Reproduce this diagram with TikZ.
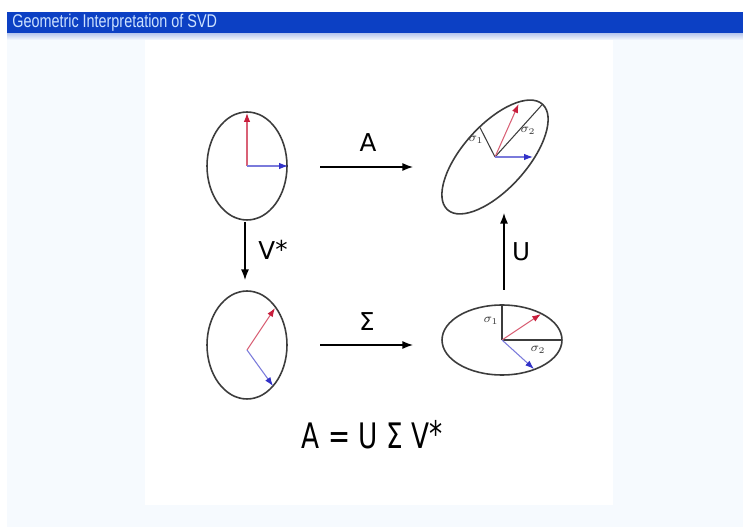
\documentclass[tikz,border=0pt]{standalone}
\usepackage{fontspec}
\setmainfont{DejaVu Sans}
\newfontfamily\titlefont[FakeStretch=0.78]{Liberation Sans}
\newfontfamily\eqfont[FakeStretch=0.75]{DejaVu Sans}
\usepackage{xcolor}
\usetikzlibrary{
  arrows.meta,
  calc,
  shapes.geometric
}
\definecolor{barblue}{RGB}{12, 64, 196}
\definecolor{bartext}{RGB}{205, 226, 255}
\definecolor{paleblue}{RGB}{246, 250, 254}
\definecolor{vecred}{RGB}{200, 30, 60}
\definecolor{vecblue}{RGB}{50, 50, 200}
\definecolor{rimgray}{RGB}{60, 60, 60}
\newcommand{\vstar}{V\raisebox{0.1ex}{*}}

\begin{document}
\begin{tikzpicture}[x=0.02cm, y=0.02cm,
    rim/.style={
        draw=rimgray, ellipse, line width=0.9pt, inner sep=0pt, outer sep=0pt
    },
  maparrow/.style={-{Latex[length=6pt, width=4.5pt]}, line width=0.7pt},
  redvec/.style={draw=vecred!70, -{Latex[length=5pt, width=3.6pt, color=vecred]}, line width=0.6pt},
  bluevec/.style={draw=vecblue!65, -{Latex[length=5pt, width=3.6pt, color=vecblue]}, line width=0.6pt},
  axisline/.style={draw=rimgray, line width=0.6pt},
  maplbl/.style={font=\fontsize{14}{16}\selectfont, inner sep=1pt},
  siglbl/.style={font=\scriptsize, text=rimgray, inner sep=0.5pt}
]
\useasboundingbox (0,0) rectangle (743,527);

% slide background and title bar
\fill[white] (0,0) rectangle (743,527);
\fill[paleblue] (7,0) rectangle (743,494);
\fill[white] (145,22) rectangle (613,489);
\shade[top color=barblue!30, bottom color=paleblue] (7,487) rectangle (743,494);
\fill[barblue] (7,494) rectangle (743,515);
\node[anchor=west, inner sep=0pt, text=bartext, font=\titlefont\fontsize{10.5}{12}\selectfont]
  (title) at (12,504.5) {Geometric Interpretation of SVD};

% unit circle
\node[rim, minimum width=1.6cm, minimum height=2.16cm] (e1) at (247,361) {};
\draw[redvec]  (e1.center) -- ($(e1.center)+(0,53)$);
\draw[bluevec] (e1.center) -- ($(e1.center)+(41,0)$);

% image under A
\node[rim, rotate=48, minimum width=2.84cm, minimum height=1.28cm] (e2) at (495,370) {};
\draw[axisline] (e2.center) -- ($(e2.center)+(48:71)$);
\draw[axisline] (e2.center) -- ($(e2.center)+(117:33)$);
\draw[redvec]  (e2.center) -- ($(e2.center)+(66:58)$);
\draw[bluevec] (e2.center) -- ($(e2.center)+(0:38)$);
\node[siglbl] (s2a) at (476,387) {$\sigma_1$};
\node[siglbl] (s2b) at (528,396) {$\sigma_2$};

% after V*
\node[rim, minimum width=1.6cm, minimum height=2.16cm] (e3) at (247,182) {};
\coordinate (o3) at ($(e3.center)+(0,-5)$);
\draw[redvec]  (o3) -- ++(28,42);
\draw[bluevec] (o3) -- ++(26,-36);

% after Sigma
\node[rim, minimum width=2.4cm, minimum height=1.4cm] (e4) at (502,187) {};
\draw[axisline] (e4.center) -- (e4.north);
\draw[axisline] (e4.center) -- (e4.east);
\draw[redvec]  (e4.center) -- ++(39,26);
\draw[bluevec] (e4.center) -- ++(32,-29);
\node[siglbl] (s4a) at (491,206) {$\sigma_1$};
\node[siglbl] (s4b) at (538,177) {$\sigma_2$};

% maps
\coordinate (A-from) at (320,360);  \coordinate (A-to) at (413,360);
\coordinate (S-from) at (320,182);  \coordinate (S-to) at (413,182);
\coordinate (V-from) at (245,305);  \coordinate (V-to) at (245,247);
\coordinate (U-from) at (504,237);  \coordinate (U-to) at (504,314);

\draw[maparrow] (A-from) -- (A-to);
\draw[maparrow] (S-from) -- (S-to);
\draw[maparrow] (V-from) -- (V-to);
\draw[maparrow] (U-from) -- (U-to);

\node[maplbl] (lblA) at (368,384) {A};
\node[maplbl] (lblS) at (367,205) {Σ};
\node[maplbl] (lblV) at (273,277) {\vstar};
\node[maplbl] (lblU) at (521,275) {U};

\node[font=\eqfont\fontsize{20}{24}\selectfont] (eqn) at (372,92) {A = U Σ \vstar};

\end{tikzpicture}
\end{document}
